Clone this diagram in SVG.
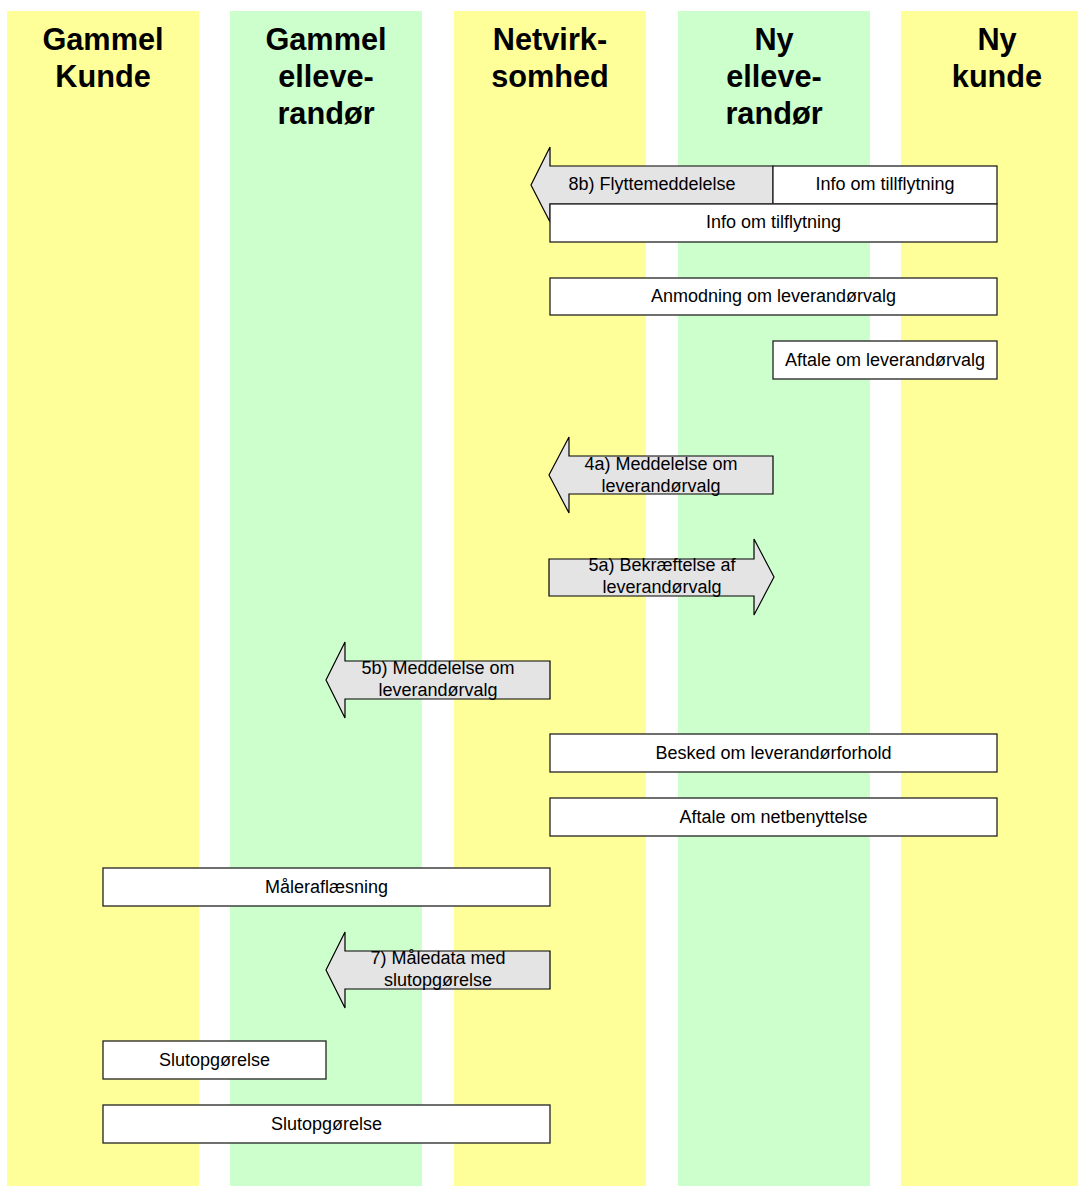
<svg xmlns="http://www.w3.org/2000/svg" width="1078" height="1186" viewBox="0 0 1078 1186">
<style>
.yl{fill:#FFFF99}
.gr{fill:#CCFFCC}
.hd{font-family:"Liberation Sans",Arial,sans-serif;font-weight:bold;font-size:30.7px;text-anchor:middle;fill:#000}
.box{fill:#FFFFFF;stroke:#222;stroke-width:1.3}
.arr{fill:#E4E4E4;stroke:#000;stroke-width:1.2;stroke-linejoin:miter}
.t{font-family:"Liberation Sans",Arial,sans-serif;font-size:18px;text-anchor:middle;fill:#000}
</style>
<rect width="1078" height="1186" fill="#FFFFFF"/>
<g id="lane-gammel-kunde">
<rect class="yl" x="7" y="11" width="192" height="1175"/>
<text class="hd" x="103" y="49.5">Gammel</text>
<text class="hd" x="103" y="86.8">Kunde</text>
</g>
<g id="lane-gammel-elleverandor">
<rect class="gr" x="230" y="11" width="192" height="1175"/>
<text class="hd" x="326" y="49.5">Gammel</text>
<text class="hd" x="326" y="86.8">elleve-</text>
<text class="hd" x="326" y="124.1">randør</text>
</g>
<g id="lane-netvirksomhed">
<rect class="yl" x="454" y="11" width="192" height="1175"/>
<text class="hd" x="550" y="49.5">Netvirk-</text>
<text class="hd" x="550" y="86.8">somhed</text>
</g>
<g id="lane-ny-elleverandor">
<rect class="gr" x="678" y="11" width="192" height="1175"/>
<text class="hd" x="774" y="49.5">Ny</text>
<text class="hd" x="774" y="86.8">elleve-</text>
<text class="hd" x="774" y="124.1">randør</text>
</g>
<g id="lane-ny-kunde">
<rect class="yl" x="901" y="11" width="192" height="1175"/>
<text class="hd" x="997" y="49.5">Ny</text>
<text class="hd" x="997" y="86.8">kunde</text>
</g>
<g id="connectors">
<g id="arrow-8b">
<polygon class="arr" points="531,185 550,147 550,166 773,166 773,204 550,204 550,222"/>
<text class="t" x="652" y="189.5">8b) Flyttemeddelelse</text>
</g>
<g id="arrow-4a">
<polygon class="arr" points="549,475 569,437 569,456 773,456 773,494 569,494 569,513"/>
<text class="t" x="661" y="470">4a) Meddelelse om</text>
<text class="t" x="661" y="491.5">leverandørvalg</text>
</g>
<g id="arrow-5a">
<polygon class="arr" points="549,559 754,559 754,539 774,577 754,615 754,596 549,596"/>
<text class="t" x="662" y="571">5a) Bekræftelse af</text>
<text class="t" x="662" y="592.5">leverandørvalg</text>
</g>
<g id="arrow-5b">
<polygon class="arr" points="326,680 345,642 345,661 550,661 550,699 345,699 345,718"/>
<text class="t" x="438" y="674">5b) Meddelelse om</text>
<text class="t" x="438" y="695.5">leverandørvalg</text>
</g>
<g id="arrow-7">
<polygon class="arr" points="326,970 345,932 345,951 550,951 550,989 345,989 345,1008"/>
<text class="t" x="438" y="964">7) Måledata med</text>
<text class="t" x="438" y="985.5">slutopgørelse</text>
</g>
</g>
<g id="box-info-tillflytning">
<rect class="box" x="773" y="166" width="224" height="38"/>
<text class="t" x="885" y="189.5">Info om tillflytning</text>
</g>
<g id="box-info-tilflytning">
<rect class="box" x="550" y="204" width="447" height="38"/>
<text class="t" x="773.5" y="228">Info om tilflytning</text>
</g>
<g id="box-anmodning">
<rect class="box" x="550" y="278" width="447" height="37"/>
<text class="t" x="773.5" y="302">Anmodning om leverandørvalg</text>
</g>
<g id="box-aftale-leverandorvalg">
<rect class="box" x="773" y="341" width="224" height="38"/>
<text class="t" x="885" y="365.5">Aftale om leverandørvalg</text>
</g>
<g id="box-besked">
<rect class="box" x="550" y="734" width="447" height="38"/>
<text class="t" x="773.5" y="758.5">Besked om leverandørforhold</text>
</g>
<g id="box-netbenyttelse">
<rect class="box" x="550" y="798" width="447" height="38"/>
<text class="t" x="773.5" y="822.5">Aftale om netbenyttelse</text>
</g>
<g id="box-maleraflaesning">
<rect class="box" x="103" y="868" width="447" height="38"/>
<text class="t" x="326.5" y="892.5">Måleraflæsning</text>
</g>
<g id="box-slutopgorelse-1">
<rect class="box" x="103" y="1041" width="223" height="38"/>
<text class="t" x="214.5" y="1065.5">Slutopgørelse</text>
</g>
<g id="box-slutopgorelse-2">
<rect class="box" x="103" y="1105" width="447" height="38"/>
<text class="t" x="326.5" y="1129.5">Slutopgørelse</text>
</g>
</svg>
